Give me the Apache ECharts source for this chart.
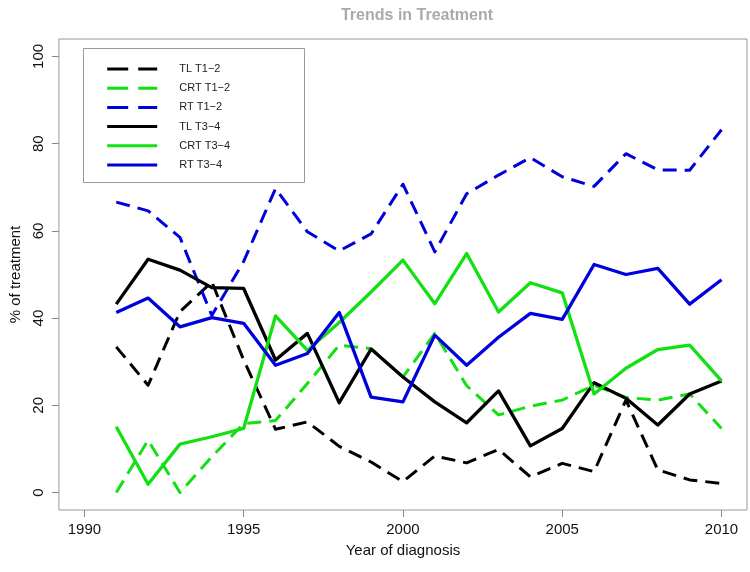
<!DOCTYPE html>
<html><head><meta charset="utf-8">
<script src="https://cdn.jsdelivr.net/npm/echarts@6/dist/echarts.min.js"></script>
<style>html,body{margin:0;padding:0;background:#fff}#c{width:750px;height:572px}</style>
</head><body><div id="c"></div>
<script>
var years = [1991,1992,1993,1994,1995,1996,1997,1998,1999,2000,2001,2002,2003,2004,2005,2006,2007,2008,2009,2010];
var tlT12  = [33.4,24.6,41.5,48.3,30.4,14.5,16.2,10.6,7.0,2.5,8.4,6.8,9.9,3.6,6.7,4.8,21.2,5.2,2.9,2.1];
var crtT12 = [0,12,0,8.2,15.8,16.5,25,33.8,33.0,26.5,36.5,24.5,17.8,19.8,21.2,24.6,21.8,21.2,22.6,14.7];
var rtT12  = [66.6,64.6,58.5,40.6,53,69.7,59.8,55.4,59.3,70.7,55.2,68.5,72.8,76.8,72.4,70.2,77.7,74.0,73.9,83.2];
var tlT34  = [43.2,53.5,51.0,47.0,46.8,30.4,36.5,20.6,32.9,26.5,20.8,16.0,23.3,10.7,14.7,25.2,21.6,15.5,22.6,25.6];
var crtT34 = [15.1,1.9,11.1,12.8,14.7,40.5,32.6,39.0,46.0,53.3,43.3,54.8,41.4,48.1,45.8,22.6,28.5,32.8,33.8,25.6];
var rtT34  = [41.3,44.6,38.0,40.1,38.8,29.2,31.9,41.3,21.9,20.8,36.1,29.2,35.6,41.1,39.7,52.3,50.0,51.4,43.2,48.8];
var xTicks = [1990,1995,2000,2005,2010];
var yTicks = [0,20,40,60,80,100];
var seriesNames = ['TL T1\u22122','CRT T1\u22122','RT T1\u22122','TL T3\u22124','CRT T3\u22124','RT T3\u22124'];
var seriesData = [tlT12, crtT12, rtT12, tlT34, crtT34, rtT34];
var colors = ['#000000','#11e011','#0000dd','#000000','#11e011','#0000dd'];
var dashed = [true,true,true,false,false,false];

function pairs(vals){ return years.map(function(y,i){ return [y, vals[i]]; }); }

var chart = echarts.init(document.getElementById('c'), null, {renderer:'canvas'});
var font = 'Liberation Sans, Arial, sans-serif';
chart.setOption({
  animation:false,
  backgroundColor:'#fff',
  title:{text:'Trends in Treatment', left:412, top:3, textAlign:'center',
    textStyle:{color:'#aaaaaa', fontSize:16, fontWeight:'bold', fontFamily:font}},
  grid:{left:57, right:3, top:39, bottom:62, show:true, borderColor:'#999', borderWidth:1, containLabel:false},
  xAxis:{type:'value', min:1989.2, max:2010.8,
    name:'Year of diagnosis', nameLocation:'middle', nameGap:33,
    nameTextStyle:{fontSize:15, color:'#111', fontFamily:font},
    axisLine:{show:false, onZero:false},
    axisTick:{show:true, inside:false, length:7, lineStyle:{color:'#888'}, customValues:xTicks},
    axisLabel:{fontSize:15, color:'#111', fontFamily:font, margin:12, customValues:xTicks,
      formatter:function(v){ return String(Math.round(v)); }},
    splitLine:{show:false}},
  yAxis:{type:'value', min:-4, max:104,
    name:'% of treatment', nameLocation:'middle', nameGap:32, nameRotate:90,
    nameTextStyle:{fontSize:15, color:'#111', fontFamily:font},
    axisLine:{show:false, onZero:false},
    axisTick:{show:true, inside:false, length:7, lineStyle:{color:'#888'}, customValues:yTicks},
    axisLabel:{fontSize:15, color:'#111', fontFamily:font, margin:13, rotate:90, customValues:yTicks},
    splitLine:{show:false}},
  legend:{orient:'vertical', left:105.7, top:63.4, padding:0, itemWidth:50, itemHeight:14, itemGap:8,
    data: seriesNames.map(function(n,i){
      return dashed[i] ? {name:n, lineStyle:{width:3, type:[21,10]}} : {name:n};
    }),
    itemStyle:{opacity:0}, lineStyle:{width:3},
    textStyle:{fontSize:11, color:'#222', fontFamily:font, padding:[0,0,0,17]}},
  graphic:[{type:'rect', shape:{x:83.5, y:48.5, width:221, height:134}, style:{fill:null, stroke:'#999', lineWidth:1}, silent:true, z:-1}],
  series: seriesNames.map(function(n,i){
    return {name:n, type:'line', data:pairs(seriesData[i]), symbol:'none', color:colors[i],
      lineStyle:{color:colors[i], width: dashed[i]?3:3.3, type: dashed[i]?[14,8]:'solid', cap:'butt', join:'round'}};
  })
});
</script></body></html>
